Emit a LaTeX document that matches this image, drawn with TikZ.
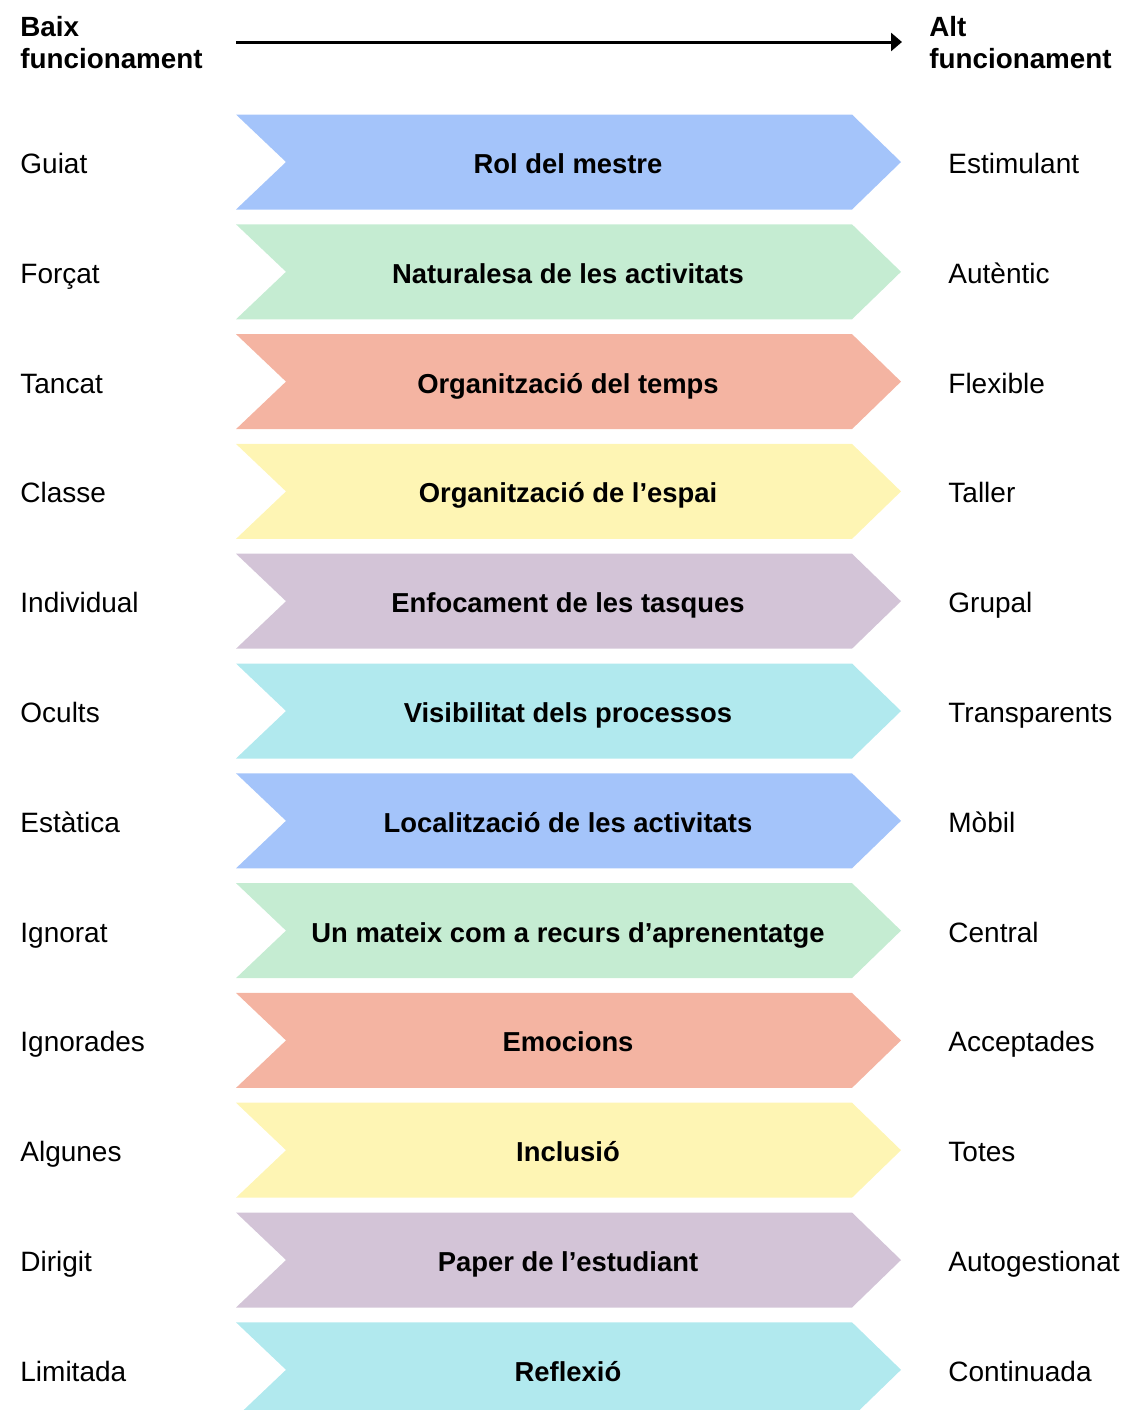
\documentclass[tikz,border=0pt]{standalone}
\usepackage{fontspec}
\setmainfont{Liberation Sans}
\usepackage{xcolor}
\usetikzlibrary{arrows.meta}

\definecolor{cblue}{HTML}{A4C4FA}
\definecolor{cgreen}{HTML}{C5ECD2}
\definecolor{csalmon}{HTML}{F4B4A2}
\definecolor{cyellow}{HTML}{FEF5B4}
\definecolor{cpurple}{HTML}{D3C4D7}
\definecolor{ccyan}{HTML}{B1E9EE}

\tikzset{
  endlabel/.style={anchor=base west, inner sep=0pt, font=\fontsize{14}{16}\selectfont},
  midlabel/.style={anchor=base, inner sep=0pt, font=\fontsize{13.7}{16}\selectfont\bfseries},
  headlabel/.style={anchor=north west, inner sep=0pt, align=left,
    font=\fontsize{13.9}{16}\selectfont\bfseries}
}

\begin{document}
\begin{tikzpicture}[x=0.5pt, y=-0.5pt]
\useasboundingbox (0,0) rectangle (1129,1410);

% header
\node (baix) [headlabel] at (20,16) {Baix\\funcionament};
\node (alt) [headlabel] at (929,16) {Alt\\funcionament};
\coordinate (axisL) at (236,42);
\coordinate (axisR) at (902,42);
\draw[line width=1.5pt, -{Triangle[length=5.5pt, width=9pt]}] (axisL) -- (axisR);

% rows
\foreach \lo/\mid/\hi/\col [count=\i] in {
  Guiat/Rol del mestre/Estimulant/cblue,
  Forçat/Naturalesa de les activitats/Autèntic/cgreen,
  Tancat/Organització del temps/Flexible/csalmon,
  Classe/Organització de l’espai/Taller/cyellow,
  Individual/Enfocament de les tasques/Grupal/cpurple,
  Ocults/Visibilitat dels processos/Transparents/ccyan,
  Estàtica/Localització de les activitats/Mòbil/cblue,
  Ignorat/Un mateix com a recurs d’aprenentatge/Central/cgreen,
  Ignorades/Emocions/Acceptades/csalmon,
  Algunes/Inclusió/Totes/cyellow,
  Dirigit/Paper de l’estudiant/Autogestionat/cpurple,
  Limitada/Reflexió/Continuada/ccyan}
{
  \pgfmathsetmacro{\yc}{162+(\i-1)*109.8}
  \fill[\col] (236,\yc-47.5) -- (852,\yc-47.5) -- (901,\yc) -- (852,\yc+47.5)
    -- (236,\yc+47.5) -- (286,\yc) -- cycle;
  \node (mid\i) [midlabel] at (568,\yc+11.5) {\mid};
  \node (lo\i) [endlabel] at (20,\yc+11.5) {\lo};
  \node (hi\i) [endlabel] at (948,\yc+11.5) {\hi};
}
\end{tikzpicture}
\end{document}
